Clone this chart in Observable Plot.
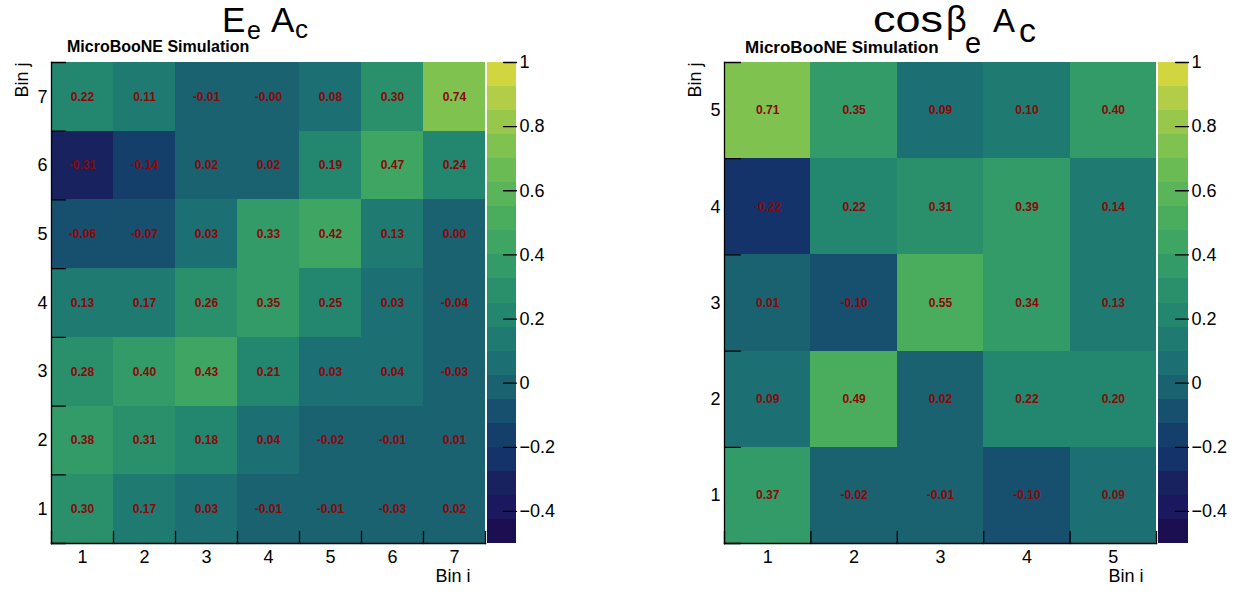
<!DOCTYPE html>
<html><head><meta charset="utf-8">
<script src="https://cdn.jsdelivr.net/npm/d3@7"></script>
<script src="https://cdn.jsdelivr.net/npm/@observablehq/plot@0.6"></script>
<style>
body{margin:0;background:#fff;}
#root{position:relative;width:1245px;height:594px;overflow:hidden;font-family:"Liberation Sans",Arial,sans-serif;color:#000;background:#fff}
.slot{position:absolute;top:0}
.t{position:absolute;white-space:nowrap;line-height:1}
.brand{position:absolute;font-weight:bold;font-size:16px;white-space:nowrap;line-height:1}
</style></head>
<body><div id="root">
<div id="title1" aria-label="E_e A_c">
  <span class="t" style="left:222px;top:1.5px;font-size:35px">E</span>
  <span class="t" style="left:247px;top:17.5px;font-size:25px">e</span>
  <span class="t" style="left:271px;top:1.5px;font-size:35px">A</span>
  <span class="t" style="left:295px;top:16px;font-size:26px">c</span>
</div>
<div id="title2" aria-label="cosβ_e A_c">
  <span class="t" style="left:873px;top:1.5px;font-size:36px;transform:scaleX(1.25);transform-origin:0 0">cos</span>
  <span class="t" style="left:946px;top:1.5px;font-size:36px">β</span>
  <span class="t" style="left:965px;top:28.5px;font-size:29px">e</span>
  <span class="t" style="left:993px;top:4.1px;font-size:33px">A</span>
  <span class="t" style="left:1019px;top:13.2px;font-size:34px">c</span>
</div>
<div class="brand" style="left:67px;top:39px">MicroBooNE Simulation</div>
<div class="brand" style="left:745px;top:39px;font-size:17px">MicroBooNE Simulation</div>
<div id="h1" class="slot" style="left:0px"></div>
<div id="c1" class="slot" style="left:487px"></div>
<div id="h2" class="slot" style="left:630px"></div>
<div id="c2" class="slot" style="left:1158px"></div>
</div>
<script>
// ---- data ----
const binsE = [1, 2, 3, 4, 5, 6, 7];
// rows: Bin j = 1..7, columns: Bin i = 1..7
const valuesE = [
  [0.30, 0.17, 0.03, -0.01, -0.01, -0.03, 0.02],
  [0.38, 0.31, 0.18, 0.04, -0.02, -0.01, 0.01],
  [0.28, 0.399, 0.43, 0.21, 0.03, 0.04, -0.03],
  [0.13, 0.17, 0.26, 0.35, 0.249, 0.03, -0.04],
  [-0.06, -0.07, 0.03, 0.33, 0.42, 0.13, 0.00],
  [-0.31, -0.14, 0.02, 0.02, 0.19, 0.47, 0.24],
  [0.22, 0.11, -0.01, -0.001, 0.08, 0.30, 0.74]
];
const binsB = [1, 2, 3, 4, 5];
const valuesB = [
  [0.37, -0.02, -0.01, -0.10, 0.09],
  [0.09, 0.49, 0.02, 0.22, 0.20],
  [0.01, -0.10, 0.549, 0.34, 0.13],
  [-0.22, 0.22, 0.31, 0.39, 0.14],
  [0.71, 0.35, 0.09, 0.101, 0.399]
];
const colorDomain = [-0.5, 1];
const colorThresholds = [-0.425, -0.35, -0.275, -0.2, -0.125, -0.05, 0.025, 0.1, 0.175, 0.25,
  0.325, 0.4, 0.475, 0.55, 0.625, 0.7, 0.775, 0.85, 0.925];
const paletteColors = ["#1b0e51", "#1b185f", "#17225f", "#14336a", "#153f6b", "#16506e", "#1a626f",
  "#1c6f72", "#1f7b71", "#23866e", "#2a906b", "#339b67", "#3fa562", "#4aad5e", "#5ab55a",
  "#6bbb55", "#7fc250", "#97c84c", "#b2ce48", "#d1d540"];
const colorTicks = [-0.4, -0.2, 0, 0.2, 0.4, 0.6, 0.8, 1];

// ---- drawing ----
const FONT = '"Liberation Sans", Arial, sans-serif';
const colorOptions = {type: "threshold", domain: colorThresholds, range: paletteColors};
const tickUp = {draw(ctx, l) { ctx.moveTo(0, 0); ctx.lineTo(0, -l); }};
const tickRight = {draw(ctx, l) { ctx.moveTo(0, 0); ctx.lineTo(l, 0); }};
const tickLeft = {draw(ctx, l) { ctx.moveTo(0, 0); ctx.lineTo(-l, 0); }};
const fmtBar = d => d < 0 ? "\u2212" + Math.abs(d) : String(d);

function heatmap(target, bins, values, opt) {
  const cells = [];
  values.forEach((row, r) => row.forEach((v, c) => cells.push({i: bins[c], j: bins[r], v})));
  const n = bins.length;
  const lo = bins[0] - 0.5, hi = bins[n - 1] + 0.5;
  const edges = d3.range(n + 1).map(k => lo + k);
  const chart = Plot.plot({
    width: opt.width, height: 594,
    marginLeft: opt.marginLeft, marginRight: 5, marginTop: 62, marginBottom: 51,
    style: {background: "transparent", overflow: "visible", fontFamily: FONT, color: "#000"},
    x: {type: "linear", domain: [lo, hi]},
    y: {type: "linear", domain: [lo, hi]},
    color: colorOptions,
    marks: [
      Plot.rect(cells, {x1: d => d.i - 0.5, x2: d => d.i + 0.5, y1: d => d.j - 0.5, y2: d => d.j + 0.5,
        fill: "v", shapeRendering: "crispEdges"}),
      Plot.text(cells, {x: "i", y: "j", text: d => d.v.toFixed(2), fill: "#8a0808",
        fontWeight: "bold", fontSize: 12}),
      Plot.axisX({ticks: bins, tickSize: 0, tickPadding: 7, fontSize: 18, label: null, tickFormat: String}),
      Plot.axisY({ticks: bins, tickSize: 0, tickPadding: 4, fontSize: 18, label: null, tickFormat: String}),
      Plot.vector(edges, {x: d => d, frameAnchor: "bottom", length: 12, anchor: "start", shape: tickUp,
        stroke: "#000", strokeWidth: 1.3}),
      Plot.vector(edges, {y: d => d, frameAnchor: "left", length: opt.yTick, anchor: "start", shape: tickRight,
        stroke: "#000", strokeWidth: 1.3}),
      Plot.frame({anchor: "left", stroke: "#000", strokeWidth: 1.3}),
      Plot.frame({anchor: "bottom", stroke: "#000", strokeWidth: 1.3}),
      Plot.text(["Bin i"], {frameAnchor: "bottom-right", text: d => d, dx: opt.binIdx, dy: 38,
        textAnchor: "end", fontSize: 18}),
      Plot.text(["Bin j"], {frameAnchor: "top-left", text: d => d, rotate: -90, dx: opt.binJdx,
        textAnchor: "end", fontSize: 18})
    ]
  });
  document.getElementById(target).append(chart);
}

function colorbar(target, width, barWidth) {
  const bands = paletteColors.map((c, k) => ({
    lo: k === 0 ? colorDomain[0] : colorThresholds[k - 1],
    hi: k === paletteColors.length - 1 ? colorDomain[1] : colorThresholds[k]
  }));
  const chart = Plot.plot({
    width, height: 594, marginLeft: 0, marginRight: width - barWidth, marginTop: 62, marginBottom: 51,
    style: {background: "transparent", overflow: "visible", fontFamily: FONT, color: "#000"},
    y: {domain: colorDomain},
    color: colorOptions,
    marks: [
      Plot.rect(bands, {y1: "lo", y2: "hi", fill: d => (d.lo + d.hi) / 2, shapeRendering: "crispEdges"}),
      Plot.vector(colorTicks, {y: d => d, frameAnchor: "right", length: 13, anchor: "start", shape: tickLeft,
        stroke: "#000", strokeWidth: 1.3}),
      Plot.axisY({anchor: "right", ticks: colorTicks, tickSize: 0, tickPadding: 3, fontSize: 18,
        label: null, tickFormat: fmtBar})
    ]
  });
  document.getElementById(target).append(chart);
}

heatmap("h1", binsE, valuesE, {width: 490, marginLeft: 51, yTick: 14, binIdx: -15, binJdx: -36});
colorbar("c1", 80, 29);
heatmap("h2", binsB, valuesB, {width: 531, marginLeft: 94, yTick: 16, binIdx: -13, binJdx: -36});
colorbar("c2", 87, 30);
</script>
</body></html>
